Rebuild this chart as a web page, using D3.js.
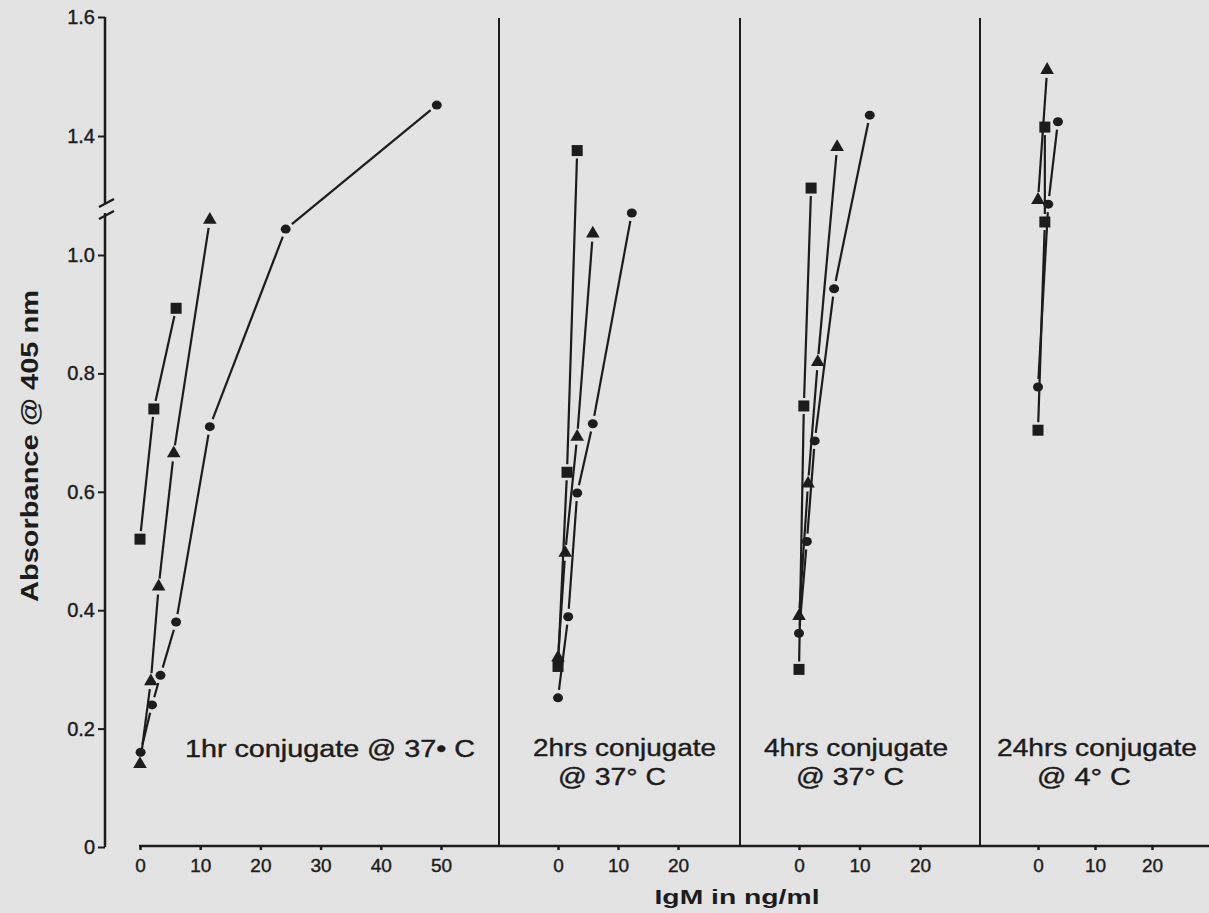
<!DOCTYPE html>
<html>
<head>
<meta charset="utf-8">
<script src="https://cdn.jsdelivr.net/npm/d3@7"></script>
<style>
  body { margin: 0; background: #e3e3e3; }
  svg { display: block; }
  text { font-family: "Liberation Sans", Arial, sans-serif; }
</style>
</head>
<body>
<div id="chart"></div>
<script>
// Absorbance @ 405 nm vs IgM (ng/ml), four conjugation conditions.
// Values; y axis has a break between 1.0 and 1.4.
const yTicks = [0, 0.2, 0.4, 0.6, 0.8, 1.0, 1.4, 1.6];
const xTicks1 = [0, 10, 20, 30, 40, 50];
const xTicksN = [0, 10, 20];
const panelLabels = [
    ["1hr conjugate @ 37\u2022 C"],
    ["2hrs conjugate", "@ 37\u00b0 C"],
    ["4hrs conjugate", "@ 37\u00b0 C"],
    ["24hrs conjugate", "@ 4\u00b0 C"]
];

// [IgM ng/ml, absorbance]
const p1Squares   = [[0, 0.52], [2.3, 0.74], [6.0, 0.91]];
const p1Triangles = [[0, 0.14], [1.8, 0.28], [3.1, 0.44], [5.6, 0.665], [11.6, 1.118]];
const p1Circles   = [[0.1, 0.16], [2.0, 0.24], [3.4, 0.29], [6.0, 0.38], [11.6, 0.71], [24.2, 1.087], [49.3, 1.452]];

const p2Squares   = [[0, 0.305], [1.5, 0.633], [3.2, 1.351]];
const p2Triangles = [[0, 0.32], [1.2, 0.497], [3.2, 0.693], [5.8, 1.072]];
const p2Circles   = [[0, 0.252], [1.7, 0.389], [3.2, 0.598], [5.8, 0.715], [12.3, 1.141]];

const p3Squares   = [[0, 0.30], [0.8, 0.745], [2.0, 1.225]];
const p3Triangles = [[0, 0.39], [1.5, 0.614], [3.1, 0.819], [6.3, 1.363]];
const p3Circles   = [[0, 0.361], [1.3, 0.516], [2.6, 0.686], [5.8, 0.943], [11.7, 1.435]];

const p4Squares   = [[0, 0.704], [1.2, 1.111], [1.2, 1.415]];
const p4Triangles = [[0, 1.185], [1.6, 1.511]];
const p4Circles   = [[0, 0.777], [1.8, 1.171], [3.5, 1.424]];

(function() {
    const W = 1209, H = 913;
    const ink = '#1c1c1c';

    const svg = d3.select('#chart').append('svg')
        .attr('width', W).attr('height', H);
    svg.append('rect').attr('width', W).attr('height', H).attr('fill', '#e3e3e3');

    // broken y scale: 0-1.0 and 1.4-1.6 at the same density
    const y = d3.scaleLinear().domain([0, 1.0, 1.4, 1.6]).range([847, 255, 136, 17]);
    const baseY = 846;

    const panels = [
        { x: d3.scaleLinear().domain([0, 50]).range([140, 441]), ticks: xTicks1,
          sq: p1Squares, tri: p1Triangles, cir: p1Circles },
        { x: d3.scaleLinear().domain([0, 20]).range([558, 678]), ticks: xTicksN,
          sq: p2Squares, tri: p2Triangles, cir: p2Circles },
        { x: d3.scaleLinear().domain([0, 20]).range([799, 920]), ticks: xTicksN,
          sq: p3Squares, tri: p3Triangles, cir: p3Circles },
        { x: d3.scaleLinear().domain([0, 20]).range([1038, 1152]), ticks: xTicksN,
          sq: p4Squares, tri: p4Triangles, cir: p4Circles }
    ];

    // Y axis
    const yAxis = svg.append('g')
        .attr('transform', 'translate(105,0)')
        .call(d3.axisLeft(y).tickValues(yTicks).tickSize(7).tickPadding(3)
            .tickFormat(d => d === 0 ? '0' : d3.format('.1f')(d)));
    yAxis.select('.domain').remove();
    yAxis.selectAll('line').attr('stroke', ink).attr('stroke-width', 2);
    yAxis.selectAll('text').attr('fill', ink)
        .attr('stroke', ink).attr('stroke-width', 0.4)
        .style('font-size', '20px');

    svg.append('path')
        .attr('d', 'M105,17V203M105,213V847')
        .attr('stroke', ink).attr('stroke-width', 2.5).attr('fill', 'none');
    // break marks
    svg.append('path')
        .attr('d', 'M99,207L114,199M99,219L114,211')
        .attr('stroke', ink).attr('stroke-width', 2.5).attr('fill', 'none');

    // baseline and panel dividers
    svg.append('line')
        .attr('x1', 139).attr('x2', W).attr('y1', baseY).attr('y2', baseY)
        .attr('stroke', ink).attr('stroke-width', 2.5);
    [499, 740, 980].forEach(xd => {
        svg.append('line')
            .attr('x1', xd).attr('x2', xd).attr('y1', 18).attr('y2', baseY)
            .attr('stroke', ink).attr('stroke-width', 2);
    });

    const gap = 8;
    function drawSeries(g, xs, pts) {
        const px = pts.map(d => [xs(d[0]), y(d[1])]);
        for (let i = 0; i < px.length - 1; i++) {
            const [x1, y1] = px[i], [x2, y2] = px[i + 1];
            const dx = x2 - x1, dy = y2 - y1;
            const len = Math.hypot(dx, dy);
            if (len < 2 * gap + 2) continue;
            const ux = dx / len, uy = dy / len;
            g.append('line')
                .attr('x1', x1 + ux * gap).attr('y1', y1 + uy * gap)
                .attr('x2', x2 - ux * gap).attr('y2', y2 - uy * gap)
                .attr('stroke', ink).attr('stroke-width', 2.2);
        }
        return px;
    }

    panels.forEach((p, i) => {
        const g = svg.append('g');

        const ax = g.append('g')
            .attr('transform', `translate(0,${baseY})`)
            .call(d3.axisBottom(p.x).tickValues(p.ticks).tickSize(4).tickPadding(9)
                .tickFormat(d3.format('d')));
        ax.select('.domain').remove();
        ax.selectAll('line').attr('stroke', ink).attr('stroke-width', 2.5);
        ax.selectAll('text').attr('fill', ink)
            .attr('stroke', ink).attr('stroke-width', 0.4)
            .style('font-size', '19px');

        const sq = drawSeries(g, p.x, p.sq);
        const tri = drawSeries(g, p.x, p.tri);
        const cir = drawSeries(g, p.x, p.cir);

        g.selectAll('.sq').data(sq).enter().append('rect')
            .attr('x', d => d[0] - 5.5).attr('y', d => d[1] - 5.5)
            .attr('width', 11).attr('height', 11).attr('fill', ink);
        g.selectAll('.tri').data(tri).enter().append('path')
            .attr('d', d3.symbol().type(d3.symbolTriangle).size(80))
            .attr('transform', d => `translate(${d[0]},${d[1]})`)
            .attr('fill', ink);
        g.selectAll('.cir').data(cir).enter().append('ellipse')
            .attr('cx', d => d[0]).attr('cy', d => d[1])
            .attr('rx', 5).attr('ry', 4.5).attr('fill', ink);
    });

    // panel captions
    const captions = [
        { t: panelLabels[0][0], x: 185, y: 757, len: 290 },
        { t: panelLabels[1][0], x: 533, y: 756, len: 183 },
        { t: panelLabels[1][1], x: 558, y: 785, len: 108 },
        { t: panelLabels[2][0], x: 764, y: 756, len: 184 },
        { t: panelLabels[2][1], x: 796, y: 785, len: 108 },
        { t: panelLabels[3][0], x: 997, y: 756, len: 200 },
        { t: panelLabels[3][1], x: 1037, y: 785, len: 94 }
    ];
    captions.forEach(c => {
        svg.append('text')
            .attr('x', c.x).attr('y', c.y)
            .attr('textLength', c.len).attr('lengthAdjust', 'spacingAndGlyphs')
            .attr('fill', ink).attr('stroke', ink).attr('stroke-width', 0.4)
            .style('font-size', '23px')
            .text(c.t);
    });

    // axis titles
    svg.append('text')
        .attr('transform', 'translate(38,446) rotate(-90)')
        .attr('text-anchor', 'middle')
        .attr('textLength', 312).attr('lengthAdjust', 'spacingAndGlyphs')
        .attr('fill', ink)
        .style('font-size', '24px').style('font-weight', 'bold')
        .text('Absorbance @ 405 nm');

    svg.append('text')
        .attr('x', 737).attr('y', 904)
        .attr('text-anchor', 'middle')
        .attr('textLength', 165).attr('lengthAdjust', 'spacingAndGlyphs')
        .attr('fill', ink)
        .style('font-size', '21px').style('font-weight', 'bold')
        .text('IgM in ng/ml');
})();
</script>
</body>
</html>
